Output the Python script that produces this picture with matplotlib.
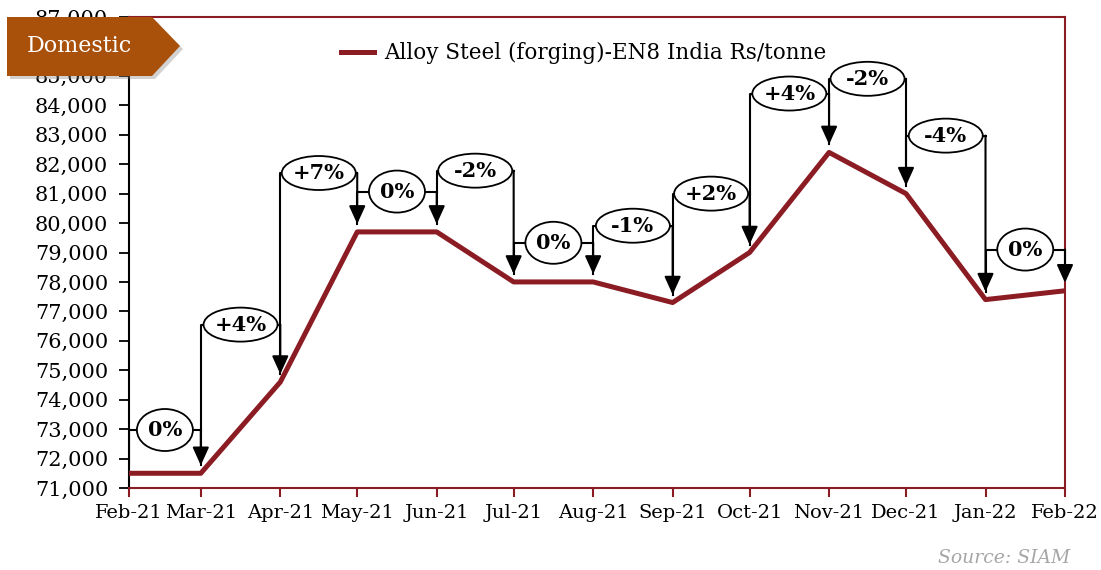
import matplotlib
matplotlib.use("Agg")
import matplotlib.pyplot as plt
import matplotlib.dates as mdates
from matplotlib.patches import Ellipse, Polygon
from matplotlib.transforms import ScaledTranslation
from matplotlib.ticker import FuncFormatter, MultipleLocator
import pandas as pd

plt.rcParams['font.family'] = 'DejaVu Serif'

# data
months = pd.date_range('2021-02-01', periods=13, freq='MS')
prices = [71500, 71500, 74600, 79700, 79700, 78000, 78000, 77300, 79000, 82400, 81000, 77400, 77700]
changes = ['0%', '+4%', '+7%', '0%', '-2%', '0%', '-1%', '+2%', '+4%', '-2%', '-4%', '0%']
bracket_tops = [72970, 76550, 81700, 81070, 81780, 79330, 79910, 81000, 84400, 84900, 82970, 79100]

RED = '#8B1C24'
W, H = 1101, 570

fig = plt.figure(figsize=(W / 100, H / 100), dpi=100)
ax = fig.add_axes([129 / W, 1 - 488 / H, (1065 - 129) / W, (488 - 17) / H])

xnum = mdates.date2num(months.to_pydatetime())
ax.plot(xnum, prices, color=RED, lw=3.6, zorder=3,
        label='Alloy Steel (forging)-EN8 India Rs/tonne')

gap = 270
for i, (lab, top) in enumerate(zip(changes, bracket_tops)):
    x0, x1 = xnum[i], xnum[i + 1]
    y0, y1 = prices[i] + gap, prices[i + 1] + gap
    ax.plot([x0, x0, x1], [y0, top, top], color='black', lw=1.5, zorder=4)
    ax.annotate('', xy=(x1, y1), xytext=(x1, top),
                arrowprops=dict(arrowstyle='-|>,head_length=1.1,head_width=0.5',
                                mutation_scale=10, color='black', lw=1.5,
                                shrinkA=0, shrinkB=0), zorder=4)
    xm = (x0 + x1) / 2
    if lab == '0%':
        w_px, h_px = 56, 42
    else:
        w_px, h_px = 74, 34
    tr = fig.dpi_scale_trans + ScaledTranslation(xm, top, ax.transData)
    ax.add_patch(Ellipse((0, 0), w_px / 100, h_px / 100, transform=tr,
                         facecolor='white', edgecolor='black', lw=1.3, zorder=5))
    ax.text(xm, top, lab, ha='center', va='center', fontweight='bold',
            fontsize=15, zorder=6)

ax.set_xlim(xnum[0], xnum[-1])
ax.set_ylim(71000, 87000)
ax.set_xticks(xnum)
ax.xaxis.set_major_formatter(mdates.DateFormatter('%b-%y'))
ax.yaxis.set_major_locator(MultipleLocator(1000))
ax.yaxis.set_major_formatter(FuncFormatter(lambda v, p: f'{v:,.0f}'))

for s in ['top', 'right', 'bottom']:
    ax.spines[s].set_color(RED)
    ax.spines[s].set_linewidth(1.5)
ax.spines['left'].set_color('black')
ax.spines['left'].set_linewidth(1.5)

ax.tick_params(axis='y', direction='out', length=7, width=1.3, colors='black',
               labelsize=15, pad=8)
ax.tick_params(axis='x', direction='out', length=6.5, width=1.5, color=RED,
               labelcolor='black', labelsize=14, pad=5)

ax.legend(loc='center', bbox_to_anchor=(584 / W, 1 - 53 / H), bbox_transform=fig.transFigure,
          frameon=False, fontsize=15.5, handlelength=1.5, handletextpad=0.5)

# "Domestic" tag
pts = [(7, 17), (152, 17), (180, 46), (152, 76), (7, 76)]
shadow = Polygon([((x + 3) / W, 1 - (y + 3) / H) for x, y in pts], closed=True,
                 transform=fig.transFigure, facecolor='grey', alpha=0.35, lw=0, zorder=5)
tag = Polygon([(x / W, 1 - y / H) for x, y in pts], closed=True,
              transform=fig.transFigure, facecolor='#A9500A', lw=0, zorder=6)
fig.patches.extend([shadow, tag])
fig.text(27 / W, 1 - 46 / H, 'Domestic', color='white', fontsize=16,
         ha='left', va='center', zorder=7)

fig.text(1070 / W, 1 - 558 / H, 'Source: SIAM', ha='right', va='center',
         style='italic', color='#A6A6A6', fontsize=13.5)

fig.savefig('out.png', dpi=100)
